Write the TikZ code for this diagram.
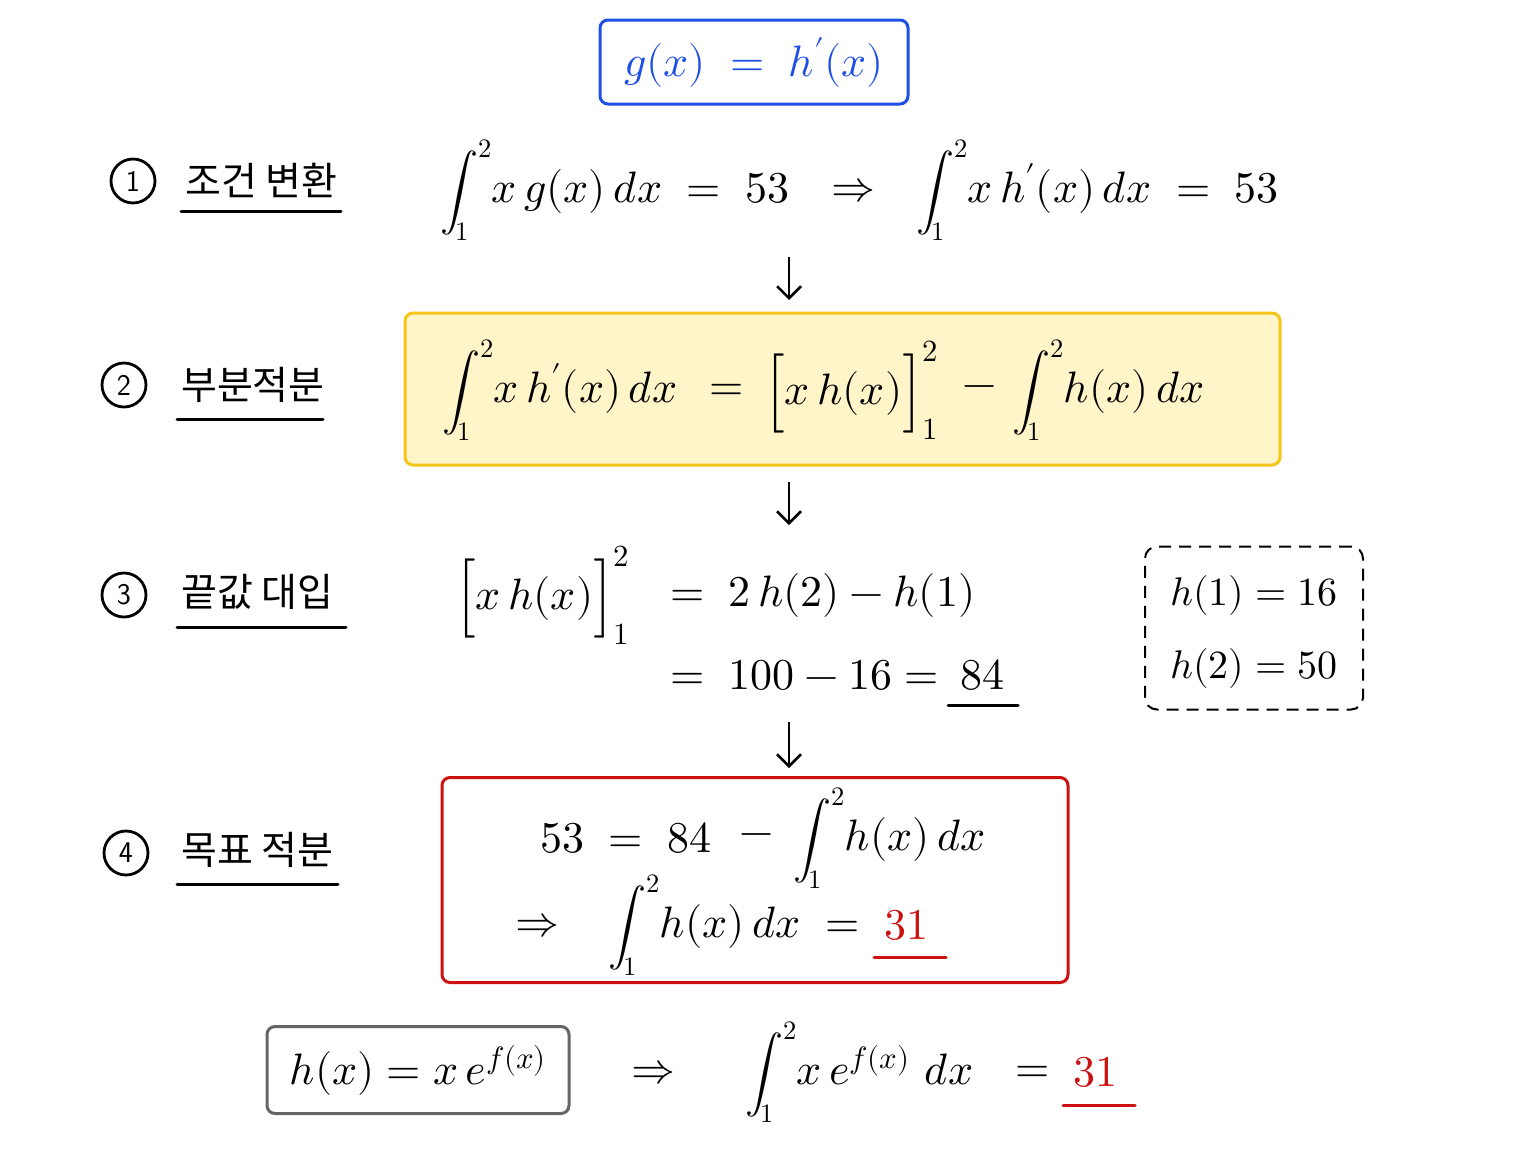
\documentclass[tikz,border=0pt]{standalone}
\usepackage{fontspec}
\usepackage{unicode-math}
\setmathfont{Latin Modern Math}
\newfontfamily\kr{Noto Sans CJK KR}
\usetikzlibrary{arrows.meta}
\definecolor{myblue}{HTML}{1E4FE6}
\definecolor{yfill}{HTML}{FFF5C9}
\definecolor{ydraw}{HTML}{F5C518}
\definecolor{myred}{HTML}{CC1111}
\definecolor{mygray}{HTML}{666666}
\newcommand{\Intt}{\mbox{\fontsize{38}{40}\selectfont$\displaystyle\int_{1}^{2}$}}
\begin{document}
\begin{tikzpicture}[x=1pt,y=-1pt,
  eq/.style={font=\fontsize{44}{50}\selectfont, inner sep=0pt},
  eqs/.style={font=\fontsize{40}{46}\selectfont, inner sep=0pt},
  kor/.style={font=\kr\fontsize{39}{44}\selectfont, inner sep=0pt, anchor=west},
  num/.style={circle, draw, line width=2.8pt, minimum size=44pt, inner sep=0pt, font=\sffamily\fontsize{30}{30}\selectfont},
  uline/.style={line width=3pt, line cap=round},
  darr/.style={line width=2.5pt, -{Straight Barb[length=12pt,width=24pt,line width=2.5pt]}},
  box/.style={rounded corners=8pt, line width=3pt, inner sep=0pt}]
\useasboundingbox (0,0) rectangle (1536,1152);
\fill[white] (0,0) rectangle (1536,1152);

% top box
\node[box, draw=myblue, minimum width=308pt, minimum height=84pt, text=myblue, eq] (top) at (754,62) {$g(x) \;=\; h'(x)$};

% labels
\node[num] (c1) at (133,181) {1};
\node[kor] (l1) at (185,180) {조건 변환};
\node[num] (c2) at (124,385) {2};
\node[kor] (l2) at (181,385) {부분적분};
\node[num] (c3) at (124,595) {3};
\node[kor] (l3) at (181,592) {끝값 대입};
\node[num] (c4) at (126,853) {4};
\node[kor] (l4) at (181,850) {목표 적분};
\draw[uline] (181,211) -- (341,211);
\draw[uline] (177,419) -- (323,419);
\draw[uline] (177,627) -- (346,627);
\draw[uline] (177,884) -- (338,884);

% row 1
\node[eq, anchor=west] (e1a) at (440,190) {$\Intt x\,g(x)\,dx \;=\; 53$};
\node[eq] (e1b) at (853,190) {$\Rightarrow$};
\node[eq, anchor=west] (e1c) at (916,190) {$\Intt x\,h'(x)\,dx \;=\; 53$};

% row 2
\node[box, draw=ydraw, fill=yfill, minimum width=875pt, minimum height=152pt] (ybox) at (842.5,389) {};
\node[eq, anchor=west] (e2a) at (442,390) {$\Intt x\,h'(x)\,dx$};
\node[eq] (e2b) at (727,392) {$=$};
\node[eq, anchor=west] (e2c) at (764,390) {$\Bigl[x\,h(x)\Bigr]_1^2$};
\node[eq] (e2d) at (980,392) {$-$};
\node[eq, anchor=west] (e2e) at (1012,390) {$\Intt h(x)\,dx$};

% row 3
\node[eq, anchor=west] (e3a) at (455,595) {$\Bigl[x\,h(x)\Bigr]_1^2$};
\node[eq, anchor=west] (e3b) at (670,595) {$=\; 2\,h(2) - h(1)$};
\node[eq, anchor=west] (e3c) at (670,675) {$=\; 100 - 16 =$};
\node[eq] (n84) at (982,675) {$84$};
\draw[uline] (948,705) -- (1018,705);

\node[draw, rounded corners=12pt, line width=2pt, dash pattern=on 12pt off 8pt, minimum width=218pt, minimum height=163pt] (dbox) at (1254,628) {};
\node[eqs] (h1) at (1254,595) {$h(1) = 16$};
\node[eqs] (h2) at (1254,668) {$h(2) = 50$};

% row 4
\node[box, draw=myred, minimum width=626pt, minimum height=205pt] (rbox) at (755,880) {};
\node[eq, anchor=west] (e4a) at (540,838) {$53 \;=\; 84$};
\node[eq] (e4b) at (757,840) {$-$};
\node[eq, anchor=west] (e4c) at (793,838) {$\Intt h(x)\,dx$};
\node[eq, anchor=west] (e4d) at (515,925) {$\Rightarrow$};
\node[eq, anchor=west] (e4e) at (608,925) {$\Intt h(x)\,dx \;=$};
\node[eq, text=myred] (n31a) at (906,925) {$31$};
\draw[uline, myred] (874,957) -- (946,957);

% bottom
\node[box, draw=mygray, minimum width=302pt, minimum height=87pt, eq] (hbox) at (418,1070) {$h(x) = x\,e^{f(x)}$};
\node[eq] (imp) at (653,1072) {$\Rightarrow$};
\node[eq, anchor=west] (e5) at (745,1072) {$\Intt x\,e^{f(x)}\,\,dx$};
\node[eq] (e5b) at (1033,1074) {$=$};
\node[eq, text=myred] (n31b) at (1095,1072) {$31$};
\draw[uline, myred] (1063,1105) -- (1135,1105);

% arrows
\coordinate (a1s) at (789,257); \coordinate (a1e) at (789,300);
\coordinate (a2s) at (789,482); \coordinate (a2e) at (789,525);
\coordinate (a3s) at (789,722); \coordinate (a3e) at (789,768);
\draw[darr] (a1s) -- (a1e);
\draw[darr] (a2s) -- (a2e);
\draw[darr] (a3s) -- (a3e);
\end{tikzpicture}
\end{document}
